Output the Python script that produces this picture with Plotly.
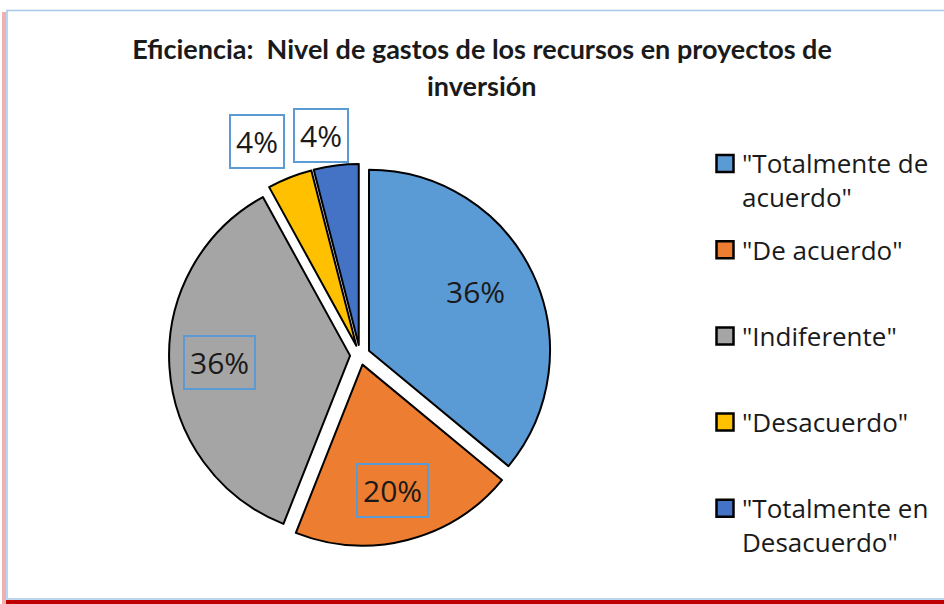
import math
import plotly.graph_objects as go

# Survey answers and their share of responses (%)
categories = ['"Totalmente de acuerdo"', '"De acuerdo"', '"Indiferente"',
              '"Desacuerdo"', '"Totalmente en Desacuerdo"']
legend_text = ['"Totalmente de<br>acuerdo"', '"De acuerdo"', '"Indiferente"',
               '"Desacuerdo"', '"Totalmente en<br>Desacuerdo"']
values = [36, 20, 36, 4, 4]

colors = ["#5B9BD5", "#ED7D31", "#A5A5A5", "#FFC000", "#4472C4"]

W, H = 944, 604
CX, CY, R = 360, 355, 181          # pie centre and radius in pixels
PULL = 0.055

# label placement: radial factor, angular nudge (deg), boxed?
label_rad = [0.73, 0.77, 0.775, 1.31, 1.23]
label_shift = [-3.5, 1.0, 0.7, -4.2, -2.8]
label_box = [False, True, True, True, True]

FONT = "Open Sans"
TITLE_FONT = "Lato"
TXT = "#1a1a1a"


def px(x):
    return x / W


def py(y):
    return 1 - y / H


half = R * (1 + PULL)
fig = go.Figure(go.Pie(
    labels=categories,
    values=values,
    sort=False,
    direction="clockwise",
    rotation=0,
    pull=[PULL] * len(values),
    marker=dict(colors=colors, line=dict(color="black", width=2)),
    textinfo="none",
    hoverinfo="label+percent",
    showlegend=False,
    domain=dict(x=[px(CX - half), px(CX + half)],
                y=[py(CY + half), py(CY - half)]),
))

annotations = []
shapes = []

# percentage labels, placed along each slice's mid angle
total = sum(values)
cum = 0
for v, rf, sh, boxed in zip(values, label_rad, label_shift, label_box):
    mid = math.radians(360 * (cum + v / 2) / total + sh)
    cum += v
    x = CX + rf * R * math.sin(mid)
    y = CY - rf * R * math.cos(mid)
    annotations.append(dict(
        x=px(x), y=py(y), xref="paper", yref="paper",
        xanchor="center", yanchor="middle",
        text=f"{round(100 * v / total)}%", showarrow=False,
        font=dict(family=FONT, size=30, color=TXT),
        bordercolor="#5B9BD5" if boxed else "rgba(0,0,0,0)",
        borderwidth=2 if boxed else 0, borderpad=5,
        bgcolor="white" if boxed and rf > 1 else "rgba(0,0,0,0)",
    ))

# legend drawn on the right
LEG_X, LEG_Y0, LEG_DY, LINE_H = 725, 163.5, 86.2, 34
for i, (t, c) in enumerate(zip(legend_text, colors)):
    yc = LEG_Y0 + LEG_DY * i
    nlines = t.count("<br>") + 1
    shapes.append(dict(type="rect", xref="paper", yref="paper",
                       x0=px(LEG_X - 8.5), x1=px(LEG_X + 8.5),
                       y0=py(yc - 8.5), y1=py(yc + 8.5),
                       fillcolor=c, line=dict(color="black", width=2.5)))
    annotations.append(dict(
        x=px(LEG_X + 15), y=py(yc + (nlines - 1) * LINE_H / 2),
        xref="paper", yref="paper", xanchor="left", yanchor="middle",
        align="left", text=t, showarrow=False,
        font=dict(family=FONT, size=26, color=TXT),
    ))

# second title line
annotations.append(dict(
    x=px(482), y=py(86), xref="paper", yref="paper",
    xanchor="center", yanchor="middle",
    text="inversión", showarrow=False,
    font=dict(family=TITLE_FONT, size=27, color=TXT, weight="bold"),
))

# chart frame: light blue outline with a red edge at left and bottom
shapes += [
    dict(type="rect", xref="paper", yref="paper", x0=px(2), x1=px(6),
         y0=py(604), y1=py(12), fillcolor="rgba(192,0,0,0.3)", line_width=0,
         layer="below"),
    dict(type="rect", xref="paper", yref="paper", x0=px(7), x1=px(W + 5),
         y0=py(599), y1=py(10.5), fillcolor="rgba(0,0,0,0)",
         line=dict(color="#A6C8EA", width=1.5)),
    dict(type="rect", xref="paper", yref="paper", x0=px(6), x1=px(W + 5),
         y0=py(604), y1=py(600), fillcolor="#C00000", line_width=0),
]

fig.update_layout(
    width=W, height=H,
    margin=dict(l=0, r=0, t=0, b=0),
    paper_bgcolor="white", plot_bgcolor="white",
    title=dict(text="Eficiencia:  Nivel de gastos de los recursos en proyectos de",
               x=px(482), xanchor="center", y=py(50), yanchor="middle",
               font=dict(family=TITLE_FONT, size=27, color=TXT, weight="bold")),
    annotations=annotations,
    shapes=shapes,
)

fig.write_html("out.html")
